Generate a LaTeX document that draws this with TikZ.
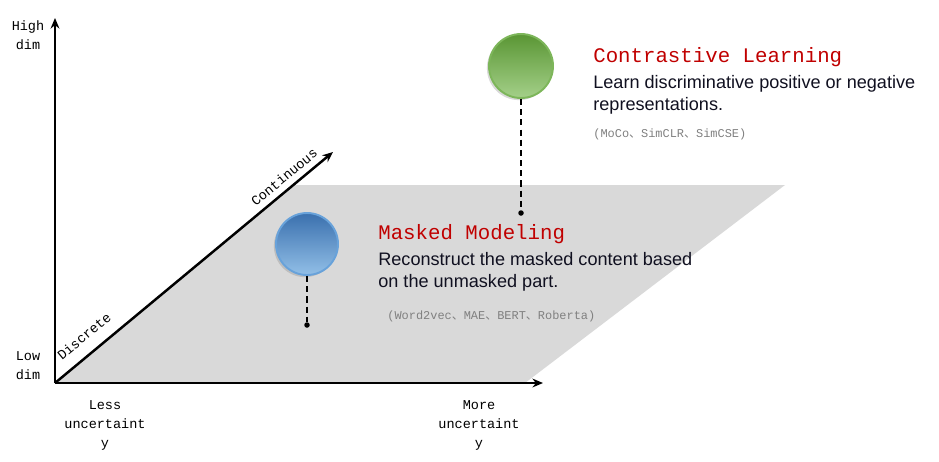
\documentclass[tikz,border=0pt]{standalone}
\usepackage{fontspec}
\setmainfont{Liberation Sans}
\newfontfamily\monofont{Liberation Mono}
\newfontfamily\cjk{Noto Sans CJK SC}
\usepackage{tikz}
\usetikzlibrary{arrows.meta,shadows}
\definecolor{titlered}{HTML}{C00000}
\definecolor{planegray}{HTML}{D9D9D9}
\definecolor{notegray}{HTML}{808080}
\definecolor{bodyink}{HTML}{101020}
\definecolor{greentop}{HTML}{5A9634}
\definecolor{greenbot}{HTML}{A4D089}
\definecolor{greenrim}{HTML}{7DB65A}
\definecolor{bluetop}{HTML}{3A70AE}
\definecolor{bluebot}{HTML}{92BFE7}
\definecolor{bluerim}{HTML}{68A2DA}
\begin{document}
\begin{tikzpicture}[x=0.02cm, y=-0.02cm,
    axis/.style={line width=1.4pt, -{Stealth[length=6pt,width=5pt]}},
    axlabel/.style={font=\monofont\fontsize{7.7}{10.8}\selectfont, align=center, inner sep=0pt},
    title/.style={font=\monofont\fontsize{11.8}{14}\selectfont, text=titlered, anchor=base west, inner sep=0pt},
    body/.style={font=\fontsize{10.3}{12.9}\selectfont, text=bodyink, anchor=base west, inner sep=0pt},
    note/.style={font=\monofont\fontsize{6.8}{8}\selectfont, text=notegray, anchor=base west, inner sep=0pt},
    ball/.style={circle, inner sep=0pt, line width=1.1pt,
                 drop shadow={shadow xshift=-1.2pt, shadow yshift=-1.2pt, opacity=0.3}},
    stem/.style={line width=1.1pt, dash pattern=on 3.5pt off 2.3pt},
    dot/.style={circle, fill=black, inner sep=0pt, minimum size=0.11cm}
]
\useasboundingbox (0,0) rectangle (939,461);
% plane
\coordinate (o)  at (55,383);
\fill[planegray] (o) -- (293,185) -- (785,185) -- (525,383) -- cycle;
% axes
\coordinate (yend) at (55,18);
\coordinate (xend) at (543,383);
\coordinate (dend) at (333,152);
\draw[axis] (o) -- (yend);
\draw[axis] (o) -- (xend);
\draw[axis] (o) -- (dend);
\node[axlabel, anchor=north] (high) at (28,20) {High\\dim};
\node[axlabel, anchor=north] (low)  at (28,351) {Low\\dim};
\node[axlabel, anchor=north] (less) at (105,400) {Less\\uncertaint\\y};
\node[axlabel, anchor=north] (more) at (479,400) {More\\uncertaint\\y};
\node[axlabel, rotate=39.7] (cont) at (284,177) {Continuous};
\node[axlabel, rotate=39.7] (disc) at (84,336) {Discrete};
% contrastive learning
\node[ball, minimum size=1.28cm, draw=greenrim, top color=greentop, bottom color=greenbot] (cl) at (521,66) {};
\node[dot] (cldot) at (521,213) {};
\draw[stem] (cl.south) -- (cldot);
\node[title] (cltitle) at (593,62) {Contrastive Learning};
\node[body] (cltext) at (593,88) {Learn discriminative positive or negative};
\node[body] (cltext2) at (593,110) {representations.};
\node[note] (clnote) at (593,137) {(MoCo{\cjk 、}SimCLR{\cjk 、}SimCSE)};
% masked modeling
\node[ball, minimum size=1.24cm, draw=bluerim, top color=bluetop, bottom color=bluebot] (mm) at (307,244) {};
\node[dot] (mmdot) at (307,325) {};
\draw[stem] (mm.south) -- (mmdot);
\node[title] (mmtitle) at (378,239) {Masked Modeling};
\node[body] (mmtext) at (378,265) {Reconstruct the masked content based};
\node[body] (mmtext2) at (378,287) {on the unmasked part.};
\node[note] (mmnote) at (387,319) {(Word2vec{\cjk 、}MAE{\cjk 、}BERT{\cjk 、}Roberta)};
\end{tikzpicture}
\end{document}
